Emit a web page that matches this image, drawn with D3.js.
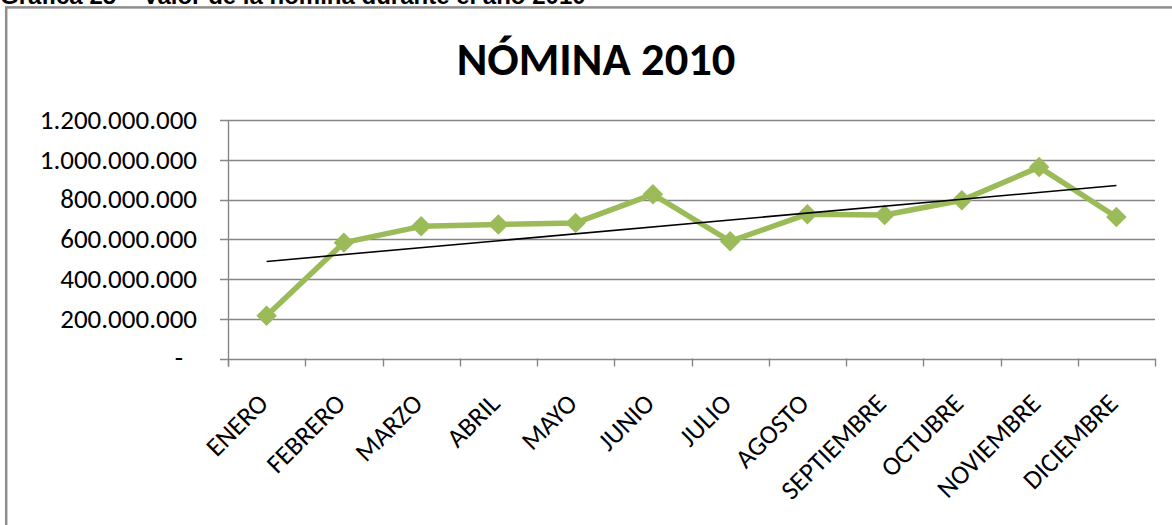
<!DOCTYPE html>
<html>
<head>
<meta charset="utf-8">
<script src="https://cdn.jsdelivr.net/npm/d3@7"></script>
<style>
  body { margin: 0; background: #fff; }
  svg { display: block; }
  text { font-family: Carlito, Calibri, Lato, sans-serif; fill: #000; }
</style>
</head>
<body>
<svg width="1172" height="525"></svg>
<script>
var months = ['ENERO', 'FEBRERO', 'MARZO', 'ABRIL', 'MAYO', 'JUNIO', 'JULIO',
    'AGOSTO', 'SEPTIEMBRE', 'OCTUBRE', 'NOVIEMBRE', 'DICIEMBRE'];
var nomina = [215e6, 583e6, 665e6, 674e6, 682e6, 826e6, 590e6,
    726e6, 722e6, 796e6, 963e6, 712e6];
var yTicks = [0, 200e6, 400e6, 600e6, 800e6, 1000e6, 1200e6];

var caption = 'Gráfica 25 – Valor de la nómina durante el año 2010';
var title = 'NÓMINA 2010';

var green = '#9bbb59';
var gridColor = '#868686';

var svg = d3.select('svg');

// numbers with dots as thousands separator
var locale = d3.formatLocale({decimal: ',', thousands: '.', grouping: [3], currency: ['$', '']});
var fmt = locale.format(',d');

var x = d3.scaleBand().domain(months).range([228, 1155]).padding(0);
var y = d3.scaleLinear().domain([0, 1200e6]).range([358.5, 120]);

// caption above the frame (cut at the top of the picture, as in the source)
svg.append('text')
    .attr('x', 0)
    .attr('y', 4)
    .style('font-family', '"Liberation Sans", Arial, sans-serif')
    .style('font-weight', 'bold')
    .style('font-size', '24px')
    .text(caption);

// chart frame
svg.append('rect')
    .attr('x', 6.2)
    .attr('y', 7.4)
    .attr('width', 1300)
    .attr('height', 700)
    .attr('fill', 'none')
    .attr('stroke', '#8e8e8e')
    .attr('stroke-width', 2.5);

svg.append('text')
    .attr('x', 596)
    .attr('y', 75)
    .attr('text-anchor', 'middle')
    .style('font-weight', 'bold')
    .style('font-size', '46.5px')
    .text(title);

// gridlines + left ticks
svg.append('g').selectAll('line')
    .data(yTicks)
    .join('line')
    .attr('x1', 220)
    .attr('x2', x.range()[1])
    .attr('y1', function(d) { return Math.round(y(d)) + 0.5; })
    .attr('y2', function(d) { return Math.round(y(d)) + 0.5; })
    .attr('stroke', gridColor)
    .attr('stroke-width', 1.4);

svg.append('g').selectAll('text')
    .data(yTicks)
    .join('text')
    .attr('x', function(d) { return d === 0 ? 183 : 197; })
    .attr('y', function(d) { return y(d); })
    .attr('dy', '0.33em')
    .attr('text-anchor', 'end')
    .style('font-size', '27px')
    .text(function(d) { return d === 0 ? '-' : fmt(d); });

// y axis line
svg.append('line')
    .attr('x1', 228.5).attr('x2', 228.5)
    .attr('y1', y(1200e6)).attr('y2', y(0) + 8)
    .attr('stroke', gridColor)
    .attr('stroke-width', 1.4);

// x ticks at category boundaries
var bounds = months.map(function(m) { return x(m); }).concat([x.range()[1]]);
svg.append('g').selectAll('line')
    .data(bounds)
    .join('line')
    .attr('x1', function(d) { return Math.round(d) + 0.5; })
    .attr('x2', function(d) { return Math.round(d) + 0.5; })
    .attr('y1', y(0))
    .attr('y2', y(0) + 8)
    .attr('stroke', gridColor)
    .attr('stroke-width', 1.4);

// rotated month labels
function cx(m) { return x(m) + x.bandwidth() / 2; }

svg.append('g').selectAll('text')
    .data(months)
    .join('text')
    .attr('text-anchor', 'end')
    .attr('transform', function(m) { return 'translate(' + (cx(m) + 3) + ',405) rotate(-45)'; })
    .style('font-size', '26.5px')
    .text(function(m) { return m; });

// linear trendline (least squares over the 12 months)
var n = nomina.length;
var mx = d3.mean(d3.range(n));
var my = d3.mean(nomina);
var sxy = d3.sum(nomina, function(v, i) { return (i - mx) * (v - my); });
var sxx = d3.sum(d3.range(n), function(i) { return (i - mx) * (i - mx); });
var slope = sxy / sxx;
var trend = [0, n - 1].map(function(i) { return [cx(months[i]), y(my + slope * (i - mx))]; });

// data line
var line = d3.line()
    .x(function(d, i) { return cx(months[i]); })
    .y(function(d) { return y(d); });

svg.append('path')
    .datum(nomina)
    .attr('d', line)
    .attr('fill', 'none')
    .attr('stroke', green)
    .attr('stroke-width', 5.5)
    .attr('stroke-linejoin', 'round');

svg.append('g').selectAll('path')
    .data(nomina)
    .join('path')
    .attr('d', d3.symbol().type(d3.symbolSquare).size(210))
    .attr('transform', function(d, i) { return 'translate(' + cx(months[i]) + ',' + y(d) + ') rotate(45)'; })
    .attr('fill', green);

svg.append('path')
    .attr('d', d3.line()(trend))
    .attr('fill', 'none')
    .attr('stroke', '#000')
    .attr('stroke-width', 1.6);
</script>
</body>
</html>
